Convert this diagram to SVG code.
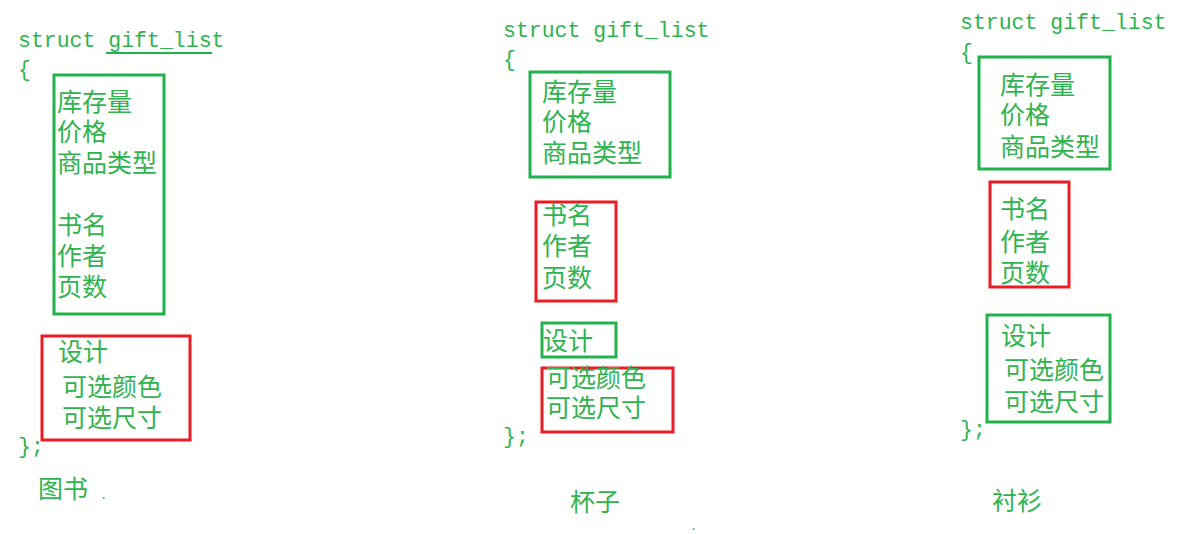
<svg xmlns="http://www.w3.org/2000/svg" width="1203" height="534" viewBox="0 0 1203 534">
<style>
.code{font-family:"Liberation Mono","DejaVu Sans Mono",monospace;font-size:21.5px;fill:#2fb34f}
.cn{font-family:"Noto Sans CJK SC","Noto Sans",sans-serif;font-size:25px;fill:#2fb34f}
.g{fill:none;stroke:#22b14c;stroke-width:3}
.r{fill:none;stroke:#ed1c24;stroke-width:3}
</style>
<rect width="1203" height="534" fill="#ffffff"/>
<g id="book">
<text class="code" x="18" y="47">struct gift_list<tspan x="18" y="76">{</tspan></text>
<line x1="106" y1="53" x2="212" y2="53" stroke="#22b14c" stroke-width="2"/>
<rect class="g" x="54" y="75" width="110" height="239"/>
<text class="cn" x="57" y="111">库存量<tspan x="57" y="141">价格</tspan><tspan x="57" y="172">商品类型</tspan><tspan x="57" y="234">书名</tspan><tspan x="57" y="265">作者</tspan><tspan x="57" y="296">页数</tspan></text>
<rect class="r" x="42" y="336" width="148" height="104"/>
<text class="cn" x="58" y="361">设计<tspan x="62" y="396">可选颜色</tspan><tspan x="62" y="427">可选尺寸</tspan></text>
<text class="code" x="18" y="453">};</text>
<text class="cn" x="38" y="498">图书</text>
<text class="code" x="100" y="499" style="font-size:12px">.</text>
</g>
<g id="cup">
<text class="code" x="503" y="37">struct gift_list<tspan x="503" y="66">{</tspan></text>
<rect class="g" x="530" y="72" width="140" height="105"/>
<text class="cn" x="542" y="101">库存量<tspan x="542" y="131">价格</tspan><tspan x="542" y="162">商品类型</tspan></text>
<rect class="r" x="536" y="202" width="80" height="99"/>
<text class="cn" x="542" y="224">书名<tspan x="542" y="255">作者</tspan><tspan x="542" y="287">页数</tspan></text>
<rect class="g" x="542" y="323" width="74" height="34"/>
<text class="cn" x="543" y="350">设计</text>
<rect class="r" x="542" y="368" width="131" height="64"/>
<text class="cn" x="546" y="387">可选颜色<tspan x="546" y="417">可选尺寸</tspan></text>
<text class="code" x="503" y="443">};</text>
<text class="cn" x="570" y="511">杯子</text>
<text class="code" x="690" y="530" style="font-size:12px">.</text>
</g>
<g id="shirt">
<text class="code" x="960" y="29">struct gift_list<tspan x="960" y="59">{</tspan></text>
<rect class="g" x="979" y="57" width="131" height="112"/>
<text class="cn" x="1000" y="94">库存量<tspan x="1000" y="124">价格</tspan><tspan x="1000" y="156">商品类型</tspan></text>
<rect class="r" x="990" y="182" width="79" height="105"/>
<text class="cn" x="1000" y="218">书名<tspan x="1000" y="251">作者</tspan><tspan x="1000" y="282">页数</tspan></text>
<rect class="g" x="987" y="315" width="123" height="107"/>
<text class="cn" x="1001" y="345">设计<tspan x="1004" y="379">可选颜色</tspan><tspan x="1004" y="411">可选尺寸</tspan></text>
<text class="code" x="960" y="436">};</text>
<text class="cn" x="992" y="510">衬衫</text>
</g>
<g id="connectors"/>
</svg>
